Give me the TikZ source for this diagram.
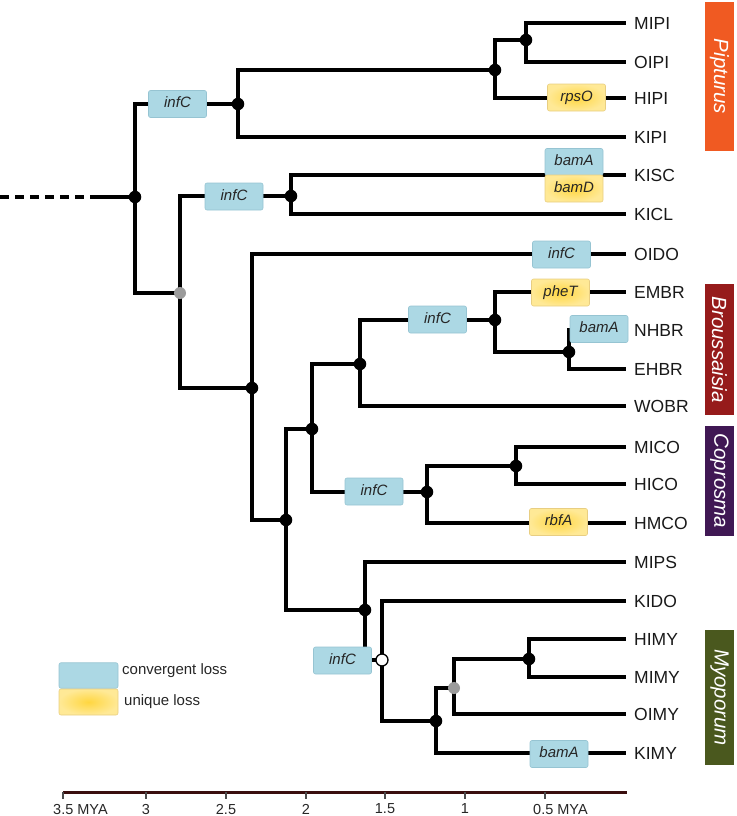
\documentclass[tikz,border=0pt]{standalone}
\usepackage{fontspec}
\setmainfont{Liberation Sans}
\setsansfont{Liberation Sans}
\definecolor{boxblue}{RGB}{172,216,228}
\definecolor{boxblueedge}{RGB}{150,196,210}
\definecolor{yelin}{RGB}{255,214,64}
\definecolor{yelout}{RGB}{255,233,150}
\definecolor{yeledge}{RGB}{232,206,130}
\definecolor{graydot}{RGB}{155,155,155}
\definecolor{pipcol}{RGB}{240,90,34}
\definecolor{brocol}{RGB}{150,27,27}
\definecolor{copcol}{RGB}{64,24,84}
\definecolor{myocol}{RGB}{74,88,30}
\definecolor{axiscol}{RGB}{58,14,14}
\begin{document}
\begin{tikzpicture}[x=1pt,y=-1pt,
  br/.style={line width=3.8pt, line join=miter, black},
  bdot/.style={circle, fill=black, inner sep=0pt, minimum size=12.5pt},
  gdot/.style={circle, fill=graydot, inner sep=0pt, minimum size=12pt},
  odot/.style={circle, fill=white, draw=black, line width=1.3pt, inner sep=0pt, minimum size=12pt},
  genebox/.style={rectangle, rounded corners=2pt, line width=0.6pt, minimum width=58pt, minimum height=27pt, inner sep=0pt, text height=11pt, text depth=3.5pt, font=\fontsize{15}{15}\selectfont\itshape, text=black!85},
  bluebox/.style={genebox, fill=boxblue, draw=boxblueedge},
  yelbox/.style={genebox, draw=yeledge, inner color=yelin, outer color=yelout},
  leaf/.style={anchor=west, inner sep=0pt, font=\fontsize{17.5}{17.5}\selectfont, text=black!90},
  clade/.style={rotate=-90, minimum height=29pt, inner sep=0pt, text=white, font=\fontsize{20.5}{20.5}\selectfont\itshape},
  ticklab/.style={inner sep=0pt, font=\fontsize{14.5}{14.5}\selectfont, text=black!85},
  legtext/.style={anchor=west, inner sep=0pt, font=\fontsize{15}{15}\selectfont, text=black!85}
]
\useasboundingbox (0,0) rectangle (736,816);

% internal node positions
\coordinate (rs) at (0,197);
\coordinate (rd) at (93,197);
\coordinate (r) at (135,197);
\coordinate (a) at (238,104);
\coordinate (b) at (495,70);
\coordinate (c) at (526,40);
\coordinate (g) at (180,293);
\coordinate (d) at (291,196);
\coordinate (e) at (252,388);
\coordinate (f) at (286,520);
\coordinate (h) at (312,429);
\coordinate (i) at (360,364);
\coordinate (j) at (495,320);
\coordinate (k) at (569,352);
\coordinate (l) at (427,492);
\coordinate (m) at (516,466);
\coordinate (n) at (365,610);
\coordinate (o) at (382,660);
\coordinate (p) at (436,721);
\coordinate (q) at (454,688);
\coordinate (s) at (529,659);

% leaf tips
\foreach \nm/\yy in {MIPI/23,OIPI/62,HIPI/98,KIPI/137,KISC/175,KICL/214,OIDO/254,EMBR/292,NHBR/330,EHBR/369,WOBR/406,MICO/447,HICO/484,HMCO/523,MIPS/562,KIDO/601,HIMY/639,MIMY/677,OIMY/714,KIMY/753}{
  \coordinate (t\nm) at (626,\yy);
  \node[leaf] (l\nm) at (634,\yy) {\nm};
}

% root
\draw[br, dash pattern=on 8.5pt off 6.5pt] (rs) -- (rd);
\draw[br] (rd) -- (r);

% branches
\draw[br] (r) |- (a);
\draw[br] (r) |- (g);
\draw[br] (a) |- (b);
\draw[br] (a) |- (tKIPI);
\draw[br] (b) |- (c);
\draw[br] (b) |- (tHIPI);
\draw[br] (c) |- (tMIPI);
\draw[br] (c) |- (tOIPI);
\draw[br] (g) |- (d);
\draw[br] (g) |- (e);
\draw[br] (d) |- (tKISC);
\draw[br] (d) |- (tKICL);
\draw[br] (e) |- (tOIDO);
\draw[br] (e) |- (f);
\draw[br] (f) |- (h);
\draw[br] (f) |- (n);
\draw[br] (h) |- (i);
\draw[br] (h) |- (l);
\draw[br] (i) |- (j);
\draw[br] (i) |- (tWOBR);
\draw[br] (j) |- (tEMBR);
\draw[br] (j) |- (k);
\draw[br] (k) |- (tNHBR);
\draw[br] (k) |- (tEHBR);
\draw[br] (l) |- (m);
\draw[br] (l) |- (tHMCO);
\draw[br] (m) |- (tMICO);
\draw[br] (m) |- (tHICO);
\draw[br] (n) |- (tMIPS);
\draw[br] (n) |- (o);
\draw[br] (o) |- (tKIDO);
\draw[br] (o) |- (p);
\draw[br] (p) |- (q);
\draw[br] (p) |- (tKIMY);
\draw[br] (q) |- (s);
\draw[br] (q) |- (tOIMY);
\draw[br] (s) |- (tHIMY);
\draw[br] (s) |- (tMIMY);

% node dots
\foreach \pt in {r,a,b,c,d,e,f,h,i,j,k,l,m,n,p,s}{
  \node[bdot] (dot\pt) at (\pt) {};
}
\node[gdot] (dotg) at (g) {};
\node[gdot] (dotq) at (q) {};
\node[odot] (doto) at (o) {};

% gene loss boxes
\node[bluebox] (bx1) at (177.5,104) {infC};
\node[yelbox] (bx2) at (576.5,97.5) {rpsO};
\node[bluebox] (bx3) at (234,196.5) {infC};
\node[bluebox] (bx4) at (574,162) {bamA};
\node[yelbox] (bx5) at (574,188.5) {bamD};
\node[bluebox] (bx6) at (561.5,254.5) {infC};
\node[yelbox] (bx7) at (560.5,292.5) {pheT};
\node[bluebox] (bx8) at (437.5,319.5) {infC};
\node[bluebox] (bx9) at (599,329) {bamA};
\node[bluebox] (bx10) at (374,491.5) {infC};
\node[yelbox] (bx11) at (558.5,522) {rbfA};
\node[bluebox] (bx12) at (342.5,660.5) {infC};
\node[bluebox] (bx13) at (559,754) {bamA};

% clade bars
\node[clade, fill=pipcol, minimum width=149pt] (cpip) at (719.5,76.5) {Pipturus};
\node[clade, fill=brocol, minimum width=131pt] (cbro) at (719.5,349.5) {Broussaisia};
\node[clade, fill=copcol, minimum width=110pt] (ccop) at (719.5,481) {Coprosma};
\node[clade, fill=myocol, minimum width=135pt] (cmyo) at (719.5,697.5) {Myoporum};

% legend
\node[genebox, fill=boxblue, draw=boxblueedge, minimum width=59pt, minimum height=25.5pt] (lgb) at (88.5,675.5) {};
\node[genebox, draw=yeledge, inner color=yelin, outer color=yelout, minimum width=59pt, minimum height=26pt] (lgy) at (88.5,702) {};
\node[legtext] (lgbt) at (122,671) {convergent loss};
\node[legtext] (lgyt) at (124,702) {unique loss};

% time axis
\coordinate (ax0) at (63,792);
\coordinate (ax1) at (627,792);
\draw[axiscol, line width=3pt] (ax0) -- (ax1);
\foreach \xx/\lab in {146/3,226/2.5,306/2,385/1.5,465/1}{
  \draw[black!70, line width=1.5pt] (\xx,792) -- (\xx,799);
  \node[ticklab] at (\xx,809) {\lab};
}
\draw[black!70, line width=1.5pt] (63,792) -- (63,799);
\draw[black!70, line width=1.5pt] (545,792) -- (545,799);
\node[ticklab, anchor=west] (t35) at (53,809) {3.5 MYA};
\node[ticklab, anchor=west] (t05) at (533,809) {0.5 MYA};
\end{tikzpicture}
\end{document}
